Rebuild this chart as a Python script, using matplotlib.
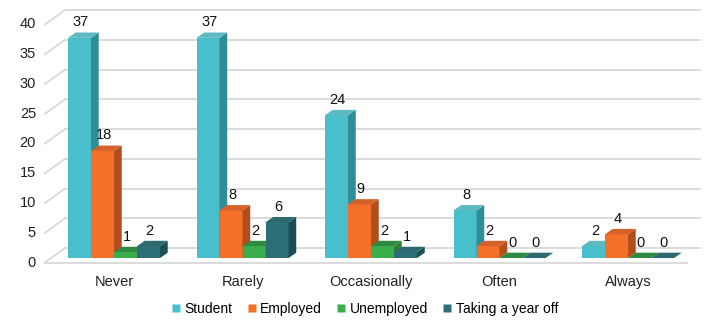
import matplotlib
matplotlib.use("Agg")
import matplotlib.pyplot as plt
from matplotlib.patches import Polygon
from matplotlib.lines import Line2D
import numpy as np

plt.rcParams['font.family'] = ['Liberation Sans', 'DejaVu Sans']

categories = ["Never", "Rarely", "Occasionally", "Often", "Always"]
series_names = ["Student", "Employed", "Unemployed", "Taking a year off"]
student = [37, 37, 24, 8, 2]
employed = [18, 8, 9, 2, 4]
unemployed = [1, 2, 2, 0, 0]
year_off = [2, 6, 1, 0, 0]
yticks = [0, 5, 10, 15, 20, 25, 30, 35, 40]

values = [student, employed, unemployed, year_off]
front_cols = ["#48BFCA", "#F46F27", "#3CAF4D", "#2C6F78"]
side_cols = ["#2F8D97", "#B24D1C", "#2A8039", "#1D4D54"]
top_cols = ["#5FB9C0", "#D5622B", "#2F8B42", "#2F6970"]

fig = plt.figure(figsize=(7.07, 3.22), dpi=100)
ax = fig.add_axes([40/707, (322-264)/322, 660/707, 255.9/322])
ax.set_xlim(-0.576, 4.560)
ax.set_ylim(-1.0, 42.0)
ax.axis('off')

# depth offsets (data units)
bdx, bdy = 0.06, 0.9            # bar depth
fx, fy = -0.537, -0.75          # front plane left / zero shift
bx, by = -0.381, 1.68           # back wall left / zero shift
xr = 4.56
grid_c = "#d9d9d9"

for v in yticks:
    ax.plot([bx, xr], [v + by, v + by], color=grid_c, lw=1.3, zorder=1, clip_on=False)
    ax.plot([fx, bx], [v + fy, v + by], color=grid_c, lw=1.3, zorder=1, clip_on=False)
    ax.text(fx - 0.07, v + fy, str(v), ha='right', va='center', fontsize=10.5, color='#222222')
ax.plot([fx, 4.46], [fy, fy], color=grid_c, lw=1.3, zorder=1, clip_on=False)

w = 0.179
n = len(series_names)
x = np.arange(len(categories))
z = 2
for gi in range(len(categories)):
    for si in range(n):
        val = values[si][gi]
        xl = x[gi] - 2 * w + si * w
        bars = ax.bar(xl, val, width=w, align='edge', color=front_cols[si],
                      zorder=z, linewidth=0)
        r = bars[0]
        x0, x1, h = r.get_x(), r.get_x() + r.get_width(), r.get_height()
        top = Polygon([(x0, h), (x1, h), (x1 + bdx, h + bdy), (x0 + bdx, h + bdy)],
                      closed=True, facecolor=top_cols[si], edgecolor='none', zorder=z)
        side = Polygon([(x1, 0), (x1 + bdx, bdy), (x1 + bdx, h + bdy), (x1, h)],
                       closed=True, facecolor=side_cols[si], edgecolor='none', zorder=z)
        ax.add_patch(side)
        ax.add_patch(top)
        ax.text(x0 + w / 2 + 0.01, h + 2.6, str(val), ha='center', va='center',
                fontsize=10.5, color='#111111', zorder=50)
        z += 1

for i, c in enumerate(categories):
    ax.text(x[i], -4.0, c, ha='center', va='center', fontsize=10.5, color='#222222')

handles = [Line2D([0], [0], marker='s', linestyle='none', markersize=5.5,
                  markerfacecolor=front_cols[i], markeredgecolor='none') for i in range(n)]
fig.legend(handles, series_names, loc='center', bbox_to_anchor=(0.516, 0.04), ncol=4,
           frameon=False, fontsize=10, handlelength=0.6, handletextpad=0.3,
           columnspacing=1.1, borderpad=0)

fig.savefig("out.png", dpi=100)
